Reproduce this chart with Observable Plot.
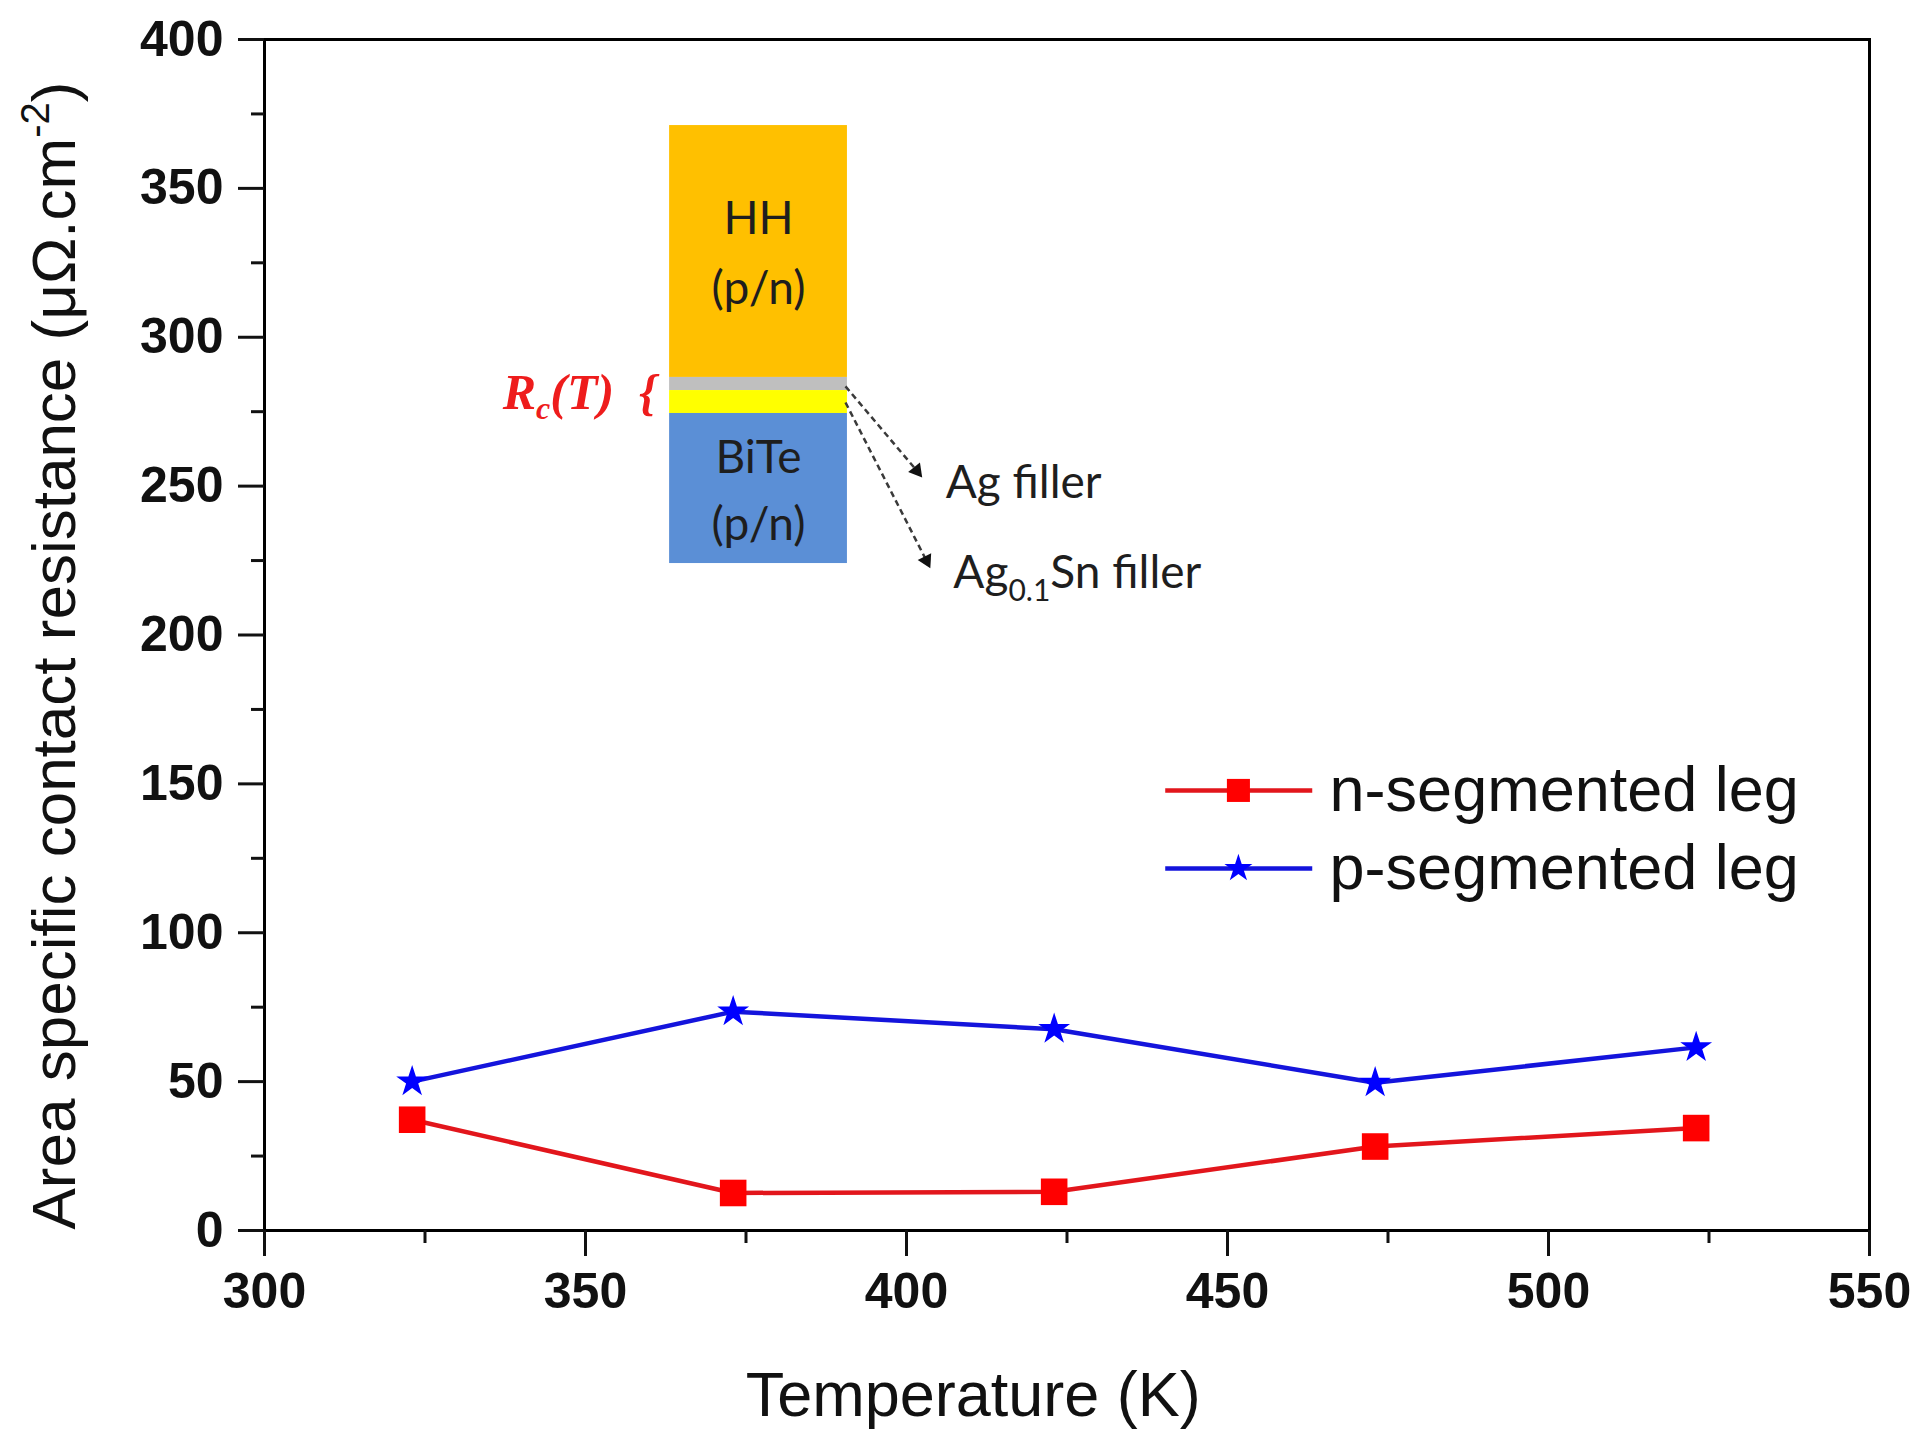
<!DOCTYPE html>
<html><head><meta charset="utf-8">
<script src="https://cdn.jsdelivr.net/npm/d3@7"></script>
<script src="https://cdn.jsdelivr.net/npm/@observablehq/plot@0.6"></script>
<style>
html,body{margin:0;padding:0;background:#fff;}
#chart svg{display:block;}
g[aria-label="x-axis tick label"] text, g[aria-label="y-axis tick label"] text {font-weight:bold;}
</style></head><body><div id="chart"></div>
<script>
// ---- data ----
const temperatures = [323, 373, 423, 473, 523];
const nSegmented = [37.2, 12.6, 13.0, 28.2, 34.4];
const pSegmented = [50.0, 73.5, 67.6, 49.6, 61.5];
const seriesNames = ["n-segmented leg", "p-segmented leg"];
const xTicks = [300, 350, 400, 450, 500, 550];
const xMinorTicks = [325, 375, 425, 475, 525];
const yTicks = [0, 50, 100, 150, 200, 250, 300, 350, 400];
const yMinorTicks = [25, 75, 125, 175, 225, 275, 325, 375];
const xTitle = "Temperature (K)";
const yTitleMain = "Area specific contact resistance (μΩ.cm";
const yTitleSup = "-2";
const insetLabels = ["HH", "(p/n)", "BiTe", "(p/n)"];
const fillerLabels = ["Ag filler", "Ag", "0.1", "Sn filler"];
const rcLabel = ["R", "c", "(T)", "  {"];

// ---- styles / layout (annotation placement in data units) ----
const nColor = "#ff0000", nLine = "#e2161c";
const pColor = "#0000ff", pLine = "#1414dc";
const inset = {x1: 363.1, x2: 390.8,
  layers: [
    {y1: 286.5, y2: 371.1, fill: "#FFC000"},
    {y1: 282.1, y2: 286.5, fill: "#BFBFBF"},
    {y1: 274.4, y2: 282.1, fill: "#FFFF00"},
    {y1: 224.0, y2: 274.4, fill: "#5B8FD6"}
  ],
  labelY: [339.5, 316.0, 259.3, 236.8]
};
const legendLayout = {x1: 440.3, x2: 463.2, xm: 451.7, xt: 465.9, y: [147.8, 121.6]};

const nData = temperatures.map((t, i) => ({T: t, R: nSegmented[i]}));
const pData = temperatures.map((t, i) => ({T: t, R: pSegmented[i]}));

const font = "'Liberation Sans', Arial, Helvetica, sans-serif";
const insetFont = "Lato, 'Open Sans', sans-serif";

const marks = [];
// inset diagram
inset.layers.forEach(l => marks.push(Plot.rect([l], {x1: () => inset.x1, x2: () => inset.x2, y1: "y1", y2: "y2", fill: l.fill})));
marks.push(Plot.text(insetLabels, {x: () => (inset.x1 + inset.x2) / 2, y: (d, i) => inset.labelY[i], text: d => d,
  fontSize: 46, fontFamily: insetFont, fill: "#1e1e1e", textAnchor: "middle", lineAnchor: "middle"}));
// arrows
const arrows = [
  {x1: 390.5, y1: 283.5, x2: 401.6, y2: 255.2, rot: 141.4},
  {x1: 390.5, y1: 278.1, x2: 403.1, y2: 225.0, rot: 153.2}
];
marks.push(Plot.link(arrows, {x1: "x1", y1: "y1", x2: "x2", y2: "y2", stroke: "#3a3a3a", strokeWidth: 2.5, strokeDasharray: "6,4"}));
marks.push(Plot.dot(arrows, {x: "x2", y: "y2", symbol: "triangle", r: 5.6, fill: "#111", stroke: "none", rotate: "rot"}));
// filler labels
marks.push(Plot.text([fillerLabels[0]], {x: () => 406.1, y: () => 250.9, text: d => d, textAnchor: "start", lineAnchor: "middle",
  fontSize: 46, fontFamily: insetFont, fill: "#1e1e1e"}));
marks.push(Plot.text([fillerLabels[1]], {x: () => 407.3, y: () => 220.7, text: d => d, textAnchor: "start", lineAnchor: "middle",
  fontSize: 46, fontFamily: insetFont, fill: "#1e1e1e"}));
// Rc(T) label
marks.push(Plot.text([rcLabel[0]], {x: () => 337.1, y: () => 281.4, text: d => d, textAnchor: "start", lineAnchor: "middle",
  fontSize: 50, fontFamily: "'Liberation Serif', 'Times New Roman', serif", fontWeight: "bold", fontStyle: "italic", fill: "#ee1c1c"}));

// data series
marks.push(Plot.line(nData, {x: "T", y: "R", stroke: nLine, strokeWidth: 4.5}));
marks.push(Plot.line(pData, {x: "T", y: "R", stroke: pLine, strokeWidth: 4.5}));
marks.push(Plot.dot(nData, {x: "T", y: "R", symbol: "square", r: 15, fill: nColor, stroke: "none"}));
marks.push(Plot.dot(pData, {x: "T", y: "R", symbol: "star", r: 10, fill: pColor, stroke: "none"}));

// legend
const legendSeries = [
  {name: seriesNames[0], line: nLine, color: nColor, symbol: "square", r: 13},
  {name: seriesNames[1], line: pLine, color: pColor, symbol: "star", r: 8.8}
];
legendSeries.forEach((s, i) => {
  const y = legendLayout.y[i];
  marks.push(Plot.link([s], {x1: () => legendLayout.x1, x2: () => legendLayout.x2, y1: () => y, y2: () => y, stroke: s.line, strokeWidth: 4.5}));
  marks.push(Plot.dot([s], {x: () => legendLayout.xm, y: () => y, symbol: s.symbol, r: s.r, fill: s.color, stroke: "none"}));
  marks.push(Plot.text([s.name], {x: () => legendLayout.xt, y: () => y, text: d => d, textAnchor: "start", lineAnchor: "middle",
    fontSize: 63, fill: "#111"}));
});

// axis titles
marks.push(Plot.text([xTitle], {x: () => 410.4, y: () => -55.4, text: d => d, fontSize: 63, fill: "#111", textAnchor: "middle", lineAnchor: "middle"}));
marks.push(Plot.text([yTitleMain], {x: () => 267.4, y: () => 193.1, text: d => d, fontSize: 62, fill: "#111", rotate: -90,
  textAnchor: "middle", lineAnchor: "middle"}));

// frame and axes
marks.push(Plot.frame({stroke: "#000", strokeWidth: 3}));
marks.push(Plot.axisX({ticks: xTicks, tickSize: 26, tickPadding: 16, strokeWidth: 3, fontSize: 50, fontWeight: "bold", label: null, fill: "#111"}));
marks.push(Plot.axisX({ticks: xMinorTicks, tickSize: 13, strokeWidth: 3, tickFormat: () => "", label: null}));
marks.push(Plot.axisY({ticks: yTicks, tickSize: 26, tickPadding: 15, strokeWidth: 3, fontSize: 50, fontWeight: "bold", label: null, fill: "#111"}));
marks.push(Plot.axisY({ticks: yMinorTicks, tickSize: 13, strokeWidth: 3, tickFormat: () => "", label: null}));

const chart = Plot.plot({
  width: 1919, height: 1430,
  marginLeft: 264, marginRight: 50, marginTop: 39, marginBottom: 200,
  x: {domain: [300, 550]},
  y: {domain: [0, 400]},
  style: {fontFamily: font, background: "#fff", overflow: "visible", color: "#111"},
  marks
});
document.getElementById("chart").appendChild(chart);

// rich text (sub/superscripts) as real text
const NS = "http://www.w3.org/2000/svg";
function rich(original, parts) {
  const t = Array.from(chart.querySelectorAll("text")).find(e => e.textContent === original);
  if (!t) return;
  t.textContent = "";
  parts.forEach(p => {
    const ts = document.createElementNS(NS, "tspan");
    ts.textContent = p.text;
    if (p.size) ts.setAttribute("font-size", p.size);
    if (p.dy) ts.setAttribute("dy", p.dy);
    t.appendChild(ts);
  });
}
rich(yTitleMain, [{text: yTitleMain}, {text: yTitleSup, size: 40, dy: -26}, {text: ")", dy: 26}]);
rich(fillerLabels[1], [{text: fillerLabels[1]}, {text: fillerLabels[2], size: 30, dy: 13}, {text: fillerLabels[3], dy: -13}]);
rich(rcLabel[0], [{text: rcLabel[0]}, {text: rcLabel[1], size: 32, dy: 10}, {text: rcLabel[2], dy: -10}, {text: rcLabel[3]}]);
</script></body></html>
